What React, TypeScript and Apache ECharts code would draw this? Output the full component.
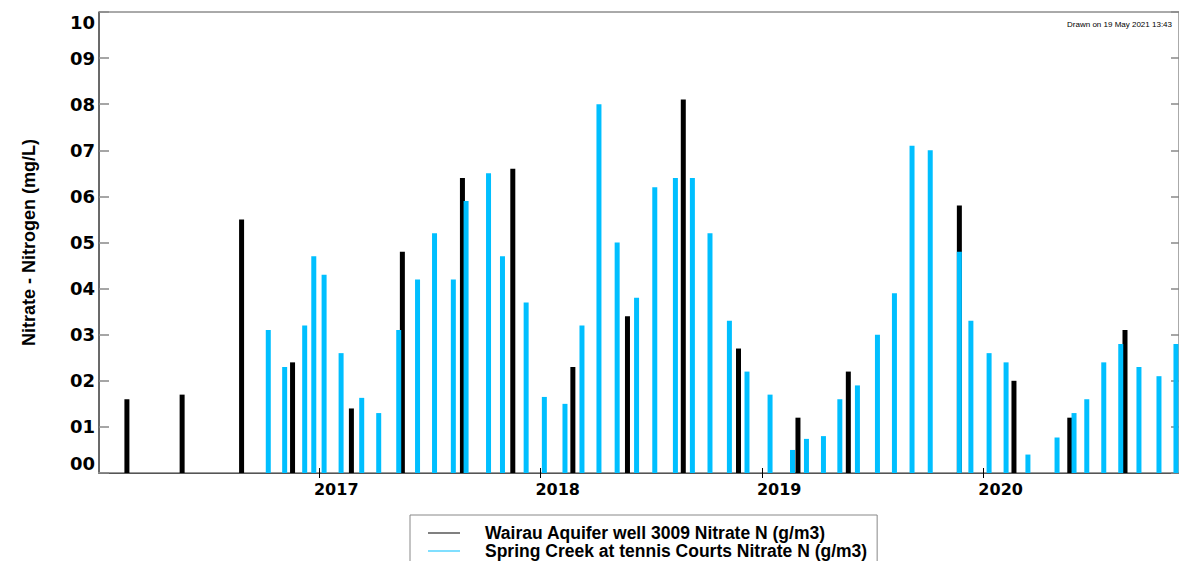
import React, { useEffect, useRef } from "react";
import * as echarts from "echarts";

const wairauName = "Wairau Aquifer well 3009 Nitrate N (g/m3)";
const springName = "Spring Creek at tennis Courts Nitrate N (g/m3)";

const wairauDates = [
  "2016-02-19", "2016-05-20", "2016-08-26", "2016-11-18",
  "2017-02-23", "2017-05-18", "2017-08-25", "2017-11-16",
  "2018-02-23", "2018-05-24", "2018-08-24", "2018-11-23",
  "2019-03-01", "2019-05-23", "2019-11-22",
  "2020-02-20", "2020-05-22", "2020-08-21",
];
const wairauValues = [
  0.16, 0.17, 0.55, 0.24,
  0.14, 0.48, 0.64, 0.66,
  0.23, 0.34, 0.81, 0.27,
  0.12, 0.22, 0.58,
  0.2, 0.12, 0.31,
];

const springDates = [
  "2016-10-09", "2016-11-05", "2016-12-08", "2016-12-23",
  "2017-01-09", "2017-02-06", "2017-03-12", "2017-04-09", "2017-05-12", "2017-06-12",
  "2017-07-10", "2017-08-10", "2017-08-31", "2017-10-07", "2017-10-30", "2017-12-08",
  "2018-01-07", "2018-02-10", "2018-03-10", "2018-04-07", "2018-05-07", "2018-06-08",
  "2018-07-08", "2018-08-11", "2018-09-08", "2018-10-07", "2018-11-08", "2018-12-07",
  "2019-01-14", "2019-02-20", "2019-03-15", "2019-04-12", "2019-05-09", "2019-06-07",
  "2019-07-10", "2019-08-07", "2019-09-05", "2019-10-05", "2019-11-22", "2019-12-11",
  "2020-01-10", "2020-02-07", "2020-03-14", "2020-05-01", "2020-05-29", "2020-06-19",
  "2020-07-17", "2020-08-14", "2020-09-13", "2020-10-16", "2020-11-13",
];
const springValues = [
  0.31, 0.23, 0.32, 0.47,
  0.43, 0.26, 0.163, 0.13, 0.31, 0.42,
  0.52, 0.42, 0.59, 0.65, 0.47, 0.37,
  0.165, 0.15, 0.32, 0.8, 0.5, 0.38,
  0.62, 0.64, 0.64, 0.52, 0.33, 0.22,
  0.17, 0.05, 0.074, 0.08, 0.16, 0.19,
  0.3, 0.39, 0.71, 0.7, 0.48, 0.33,
  0.26, 0.24, 0.04, 0.077, 0.13, 0.16,
  0.24, 0.28, 0.23, 0.21, 0.28,
];

const yearTickDates = ["2017-01-01", "2018-01-01", "2019-01-01", "2020-01-01"];
const xMinDate = "2016-01-04";
const xMaxDate = "2020-11-18";
const drawnText = "Drawn on 19 May 2021 13:43";
const yAxisTitle = "Nitrate - Nitrogen (mg/L)";

const toTs = (s: string) => {
  const [y, m, d] = s.split("-").map(Number);
  return Date.UTC(y, m - 1, d);
};

const NARROW = "'Liberation Sans Narrow', 'Liberation Sans', Arial, sans-serif";
const WIDE = "'DejaVu Sans', sans-serif";

export default function App() {
  const ref = useRef<HTMLDivElement>(null);

  useEffect(() => {
    if (!ref.current) return;
    const chart = echarts.init(ref.current, undefined, { renderer: "svg" });
    const yearTicks = yearTickDates.map(toTs);
    const xMin = toTs(xMinDate);
    const xMax = toTs(xMaxDate);
    const labelBase = { fontFamily: WIDE, fontWeight: "bold" as const, fontSize: 18, color: "#000" };

    chart.setOption({
      animation: false,
      title: {
        text: drawnText,
        right: 2,
        top: 15,
        textStyle: { fontFamily: NARROW, fontSize: 8, fontWeight: "normal", color: "#000" },
      },
      grid: {
        left: 99,
        right: -3,
        top: 12,
        bottom: 88,
        show: true,
        borderColor: "#555",
        borderWidth: 1,
      },
      legend: {
        orient: "vertical",
        left: 410,
        top: 515,
        height: 80,
        padding: [9, 10, 30, 18],
        itemGap: 0,
        itemWidth: 32,
        itemHeight: 1,
        icon: "rect",
        borderColor: "#888",
        borderWidth: 1,
        textStyle: {
          fontFamily: NARROW,
          fontWeight: "bold",
          fontSize: 17.5,
          lineHeight: 17,
          color: "#000",
          padding: [0, 0, 0, 20],
        },
        data: [wairauName, springName],
      },
      xAxis: [
        {
          type: "value",
          min: xMin,
          max: xMax,
          position: "bottom",
          axisLine: { show: true, lineStyle: { color: "#999", width: 2 } },
          axisTick: { show: true, inside: true, length: 5, customValues: yearTicks, lineStyle: { color: "#000" } },
          axisLabel: {
            customValues: yearTicks,
            formatter: (v: number) => String(new Date(v).getUTCFullYear()),
            align: "center",
            padding: [0, 0, 0, 34],
            margin: 8,
            fontFamily: WIDE,
            fontWeight: "bold",
            fontSize: 16,
            color: "#000",
          },
          splitLine: { show: false },
        },
        {
          type: "value",
          min: xMin,
          max: xMax,
          position: "top",
          axisLine: { show: true, lineStyle: { color: "#555", width: 1 } },
          axisTick: { show: true, inside: true, length: 5, customValues: yearTicks, lineStyle: { color: "#000" } },
          axisLabel: { show: false },
          splitLine: { show: false },
        },
      ],
      yAxis: [
        {
          type: "value",
          min: 0,
          max: 1,
          interval: 0.1,
          position: "left",
          name: yAxisTitle,
          nameLocation: "middle",
          nameGap: 61,
          nameTextStyle: { fontFamily: NARROW, fontWeight: "bold", fontSize: 18, color: "#000" },
          axisLine: { show: true, lineStyle: { color: "#555", width: 1.5 } },
          axisTick: { show: true, inside: true, length: 10, lineStyle: { color: "#888", width: 1.5 } },
          axisLabel: {
            margin: 4,
            formatter: (v: number) => {
              const s = v.toFixed(1).replace(".", "");
              if (v >= 0.999) return `{t|${s}}`;
              if (v <= 0.001) return `{b|${s}}`;
              return `{n|${s}}`;
            },
            rich: {
              t: { ...labelBase, padding: [20, 0, 0, 0] },
              b: { ...labelBase, padding: [0, 0, 20, 0] },
              n: { ...labelBase },
            },
          },
          splitLine: { show: false },
        },
        {
          type: "value",
          min: 0,
          max: 1,
          interval: 0.1,
          position: "right",
          axisLine: { show: true, lineStyle: { color: "#555", width: 1 } },
          axisTick: { show: true, inside: true, length: 8, lineStyle: { color: "#888", width: 1.5 } },
          axisLabel: { show: false },
          splitLine: { show: false },
        },
      ],
      series: [
        {
          name: wairauName,
          type: "bar",
          xAxisIndex: 0,
          yAxisIndex: 0,
          barWidth: 5,
          barGap: "-100%",
          itemStyle: { color: "#000" },
          data: wairauDates.map((d, i) => [toTs(d), wairauValues[i]]),
        },
        {
          name: springName,
          type: "bar",
          xAxisIndex: 0,
          yAxisIndex: 0,
          barWidth: 5,
          barGap: "-100%",
          itemStyle: { color: "#00bfff" },
          data: springDates.map((d, i) => [toTs(d), springValues[i]]),
        },
      ],
    });

    return () => chart.dispose();
  }, []);

  return (
    <div
      ref={ref}
      style={{ position: "absolute", left: 0, top: 0, width: 1179, height: 561, background: "#fff" }}
    />
  );
}
